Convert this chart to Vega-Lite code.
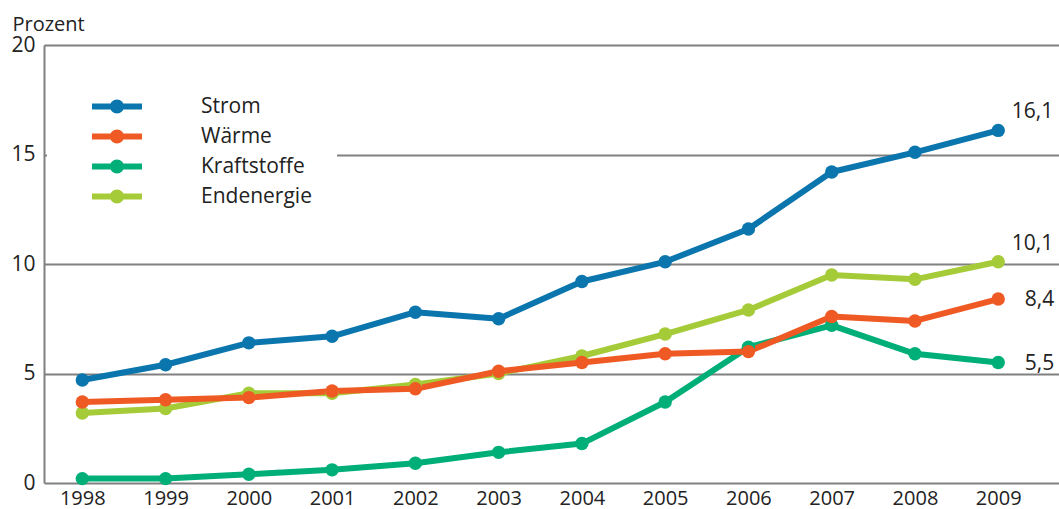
{
  "$schema": "https://vega.github.io/schema/vega-lite/v6.json",
  "width": 1015,
  "height": 438,
  "autosize": "none",
  "padding": {"left": 44, "top": 45, "right": 0, "bottom": 26},
  "background": "white",
  "config": {
    "view": {"stroke": null},
    "font": "Open Sans",
    "locale": {"number": {"decimal": ",", "thousands": ".", "grouping": [3], "currency": ["", " €"]}}
  },
  "data": {
    "values": [
      {"series": "Kraftstoffe", "year": 1998, "value": 0.2},
      {"series": "Kraftstoffe", "year": 1999, "value": 0.2},
      {"series": "Kraftstoffe", "year": 2000, "value": 0.4},
      {"series": "Kraftstoffe", "year": 2001, "value": 0.6},
      {"series": "Kraftstoffe", "year": 2002, "value": 0.9},
      {"series": "Kraftstoffe", "year": 2003, "value": 1.4},
      {"series": "Kraftstoffe", "year": 2004, "value": 1.8},
      {"series": "Kraftstoffe", "year": 2005, "value": 3.7},
      {"series": "Kraftstoffe", "year": 2006, "value": 6.2},
      {"series": "Kraftstoffe", "year": 2007, "value": 7.2},
      {"series": "Kraftstoffe", "year": 2008, "value": 5.9},
      {"series": "Kraftstoffe", "year": 2009, "value": 5.5},
      {"series": "Endenergie", "year": 1998, "value": 3.2},
      {"series": "Endenergie", "year": 1999, "value": 3.4},
      {"series": "Endenergie", "year": 2000, "value": 4.1},
      {"series": "Endenergie", "year": 2001, "value": 4.1},
      {"series": "Endenergie", "year": 2002, "value": 4.5},
      {"series": "Endenergie", "year": 2003, "value": 5.0},
      {"series": "Endenergie", "year": 2004, "value": 5.8},
      {"series": "Endenergie", "year": 2005, "value": 6.8},
      {"series": "Endenergie", "year": 2006, "value": 7.9},
      {"series": "Endenergie", "year": 2007, "value": 9.5},
      {"series": "Endenergie", "year": 2008, "value": 9.3},
      {"series": "Endenergie", "year": 2009, "value": 10.1},
      {"series": "Wärme", "year": 1998, "value": 3.7},
      {"series": "Wärme", "year": 1999, "value": 3.8},
      {"series": "Wärme", "year": 2000, "value": 3.9},
      {"series": "Wärme", "year": 2001, "value": 4.2},
      {"series": "Wärme", "year": 2002, "value": 4.3},
      {"series": "Wärme", "year": 2003, "value": 5.1},
      {"series": "Wärme", "year": 2004, "value": 5.5},
      {"series": "Wärme", "year": 2005, "value": 5.9},
      {"series": "Wärme", "year": 2006, "value": 6.0},
      {"series": "Wärme", "year": 2007, "value": 7.6},
      {"series": "Wärme", "year": 2008, "value": 7.4},
      {"series": "Wärme", "year": 2009, "value": 8.4},
      {"series": "Strom", "year": 1998, "value": 4.7},
      {"series": "Strom", "year": 1999, "value": 5.4},
      {"series": "Strom", "year": 2000, "value": 6.4},
      {"series": "Strom", "year": 2001, "value": 6.7},
      {"series": "Strom", "year": 2002, "value": 7.8},
      {"series": "Strom", "year": 2003, "value": 7.5},
      {"series": "Strom", "year": 2004, "value": 9.2},
      {"series": "Strom", "year": 2005, "value": 10.1},
      {"series": "Strom", "year": 2006, "value": 11.6},
      {"series": "Strom", "year": 2007, "value": 14.2},
      {"series": "Strom", "year": 2008, "value": 15.1},
      {"series": "Strom", "year": 2009, "value": 16.1}
    ]
  },
  "encoding": {
    "x": {
      "field": "year", "type": "quantitative",
      "scale": {"domain": [1997.54, 2009.73], "nice": false, "zero": false},
      "axis": {
        "values": [1998, 1999, 2000, 2001, 2002, 2003, 2004, 2005, 2006, 2007, 2008, 2009],
        "format": "d", "title": null, "grid": false, "domain": false, "ticks": false,
        "labelFontSize": 20, "labelColor": "#222222", "labelPadding": 5, "labelFont": "Open Sans"
      }
    },
    "y": {
      "field": "value", "type": "quantitative",
      "scale": {"domain": [0, 20], "nice": false, "zero": true},
      "axis": {
        "values": [0, 5, 10, 15, 20], "format": "d",
        "title": "Prozent", "titleAngle": 0, "titleAlign": "left", "titleBaseline": "alphabetic",
        "titleX": -32, "titleY": -15, "titleFontSize": 20, "titleFontWeight": "normal", "titleColor": "#222222", "titleFont": "Open Sans",
        "grid": true, "gridColor": "#808080", "gridWidth": 2,
        "domain": true, "domainColor": "#808080", "domainWidth": 2,
        "ticks": false, "labelFontSize": 21, "labelColor": "#222222", "labelPadding": 9, "labelFont": "Open Sans"
      }
    },
    "color": {
      "field": "series", "type": "nominal",
      "scale": {
        "domain": ["Strom", "Wärme", "Kraftstoffe", "Endenergie"],
        "range": ["#0a76ad", "#ef5a24", "#00ae78", "#a5cb38"]
      },
      "legend": {
        "title": null, "orient": "none", "legendX": 3, "legendY": 21.75,
        "padding": 25, "fillColor": "white",
        "symbolType": "M-1,-0.12H1V0.12H-1Z M0.28,0A0.28,0.28,0,1,1,-0.28,0A0.28,0.28,0,1,1,0.28,0Z",
        "symbolSize": 2500, "symbolOffset": 20, "labelOffset": 59,
        "clipHeight": 29.5, "rowPadding": 0,
        "labelFontSize": 21, "labelColor": "#222222", "labelFont": "Open Sans",
        "symbolStrokeWidth": 0,
        "encode": {"symbols": {"update": {"fill": {"scale": "color", "field": "value"}, "stroke": {"value": "transparent"}, "opacity": {"value": 1}}}}
      }
    }
  },
  "layer": [
    {"mark": {"type": "line", "strokeWidth": 6, "strokeJoin": "round", "strokeCap": "round"}},
    {"mark": {"type": "point", "filled": true, "size": 180, "opacity": 1}},
    {
      "transform": [{"filter": "datum.year == 2009 && (datum.series == 'Strom' || datum.series == 'Endenergie')"}],
      "mark": {"type": "text", "align": "right", "baseline": "middle", "dx": 55, "dy": -18, "fontSize": 21, "font": "Open Sans", "color": "#222222"},
      "encoding": {"text": {"field": "value", "type": "quantitative", "format": ".1f"}, "color": {"value": "#222222"}}
    },
    {
      "transform": [{"filter": "datum.year == 2009 && (datum.series == 'Wärme' || datum.series == 'Kraftstoffe')"}],
      "mark": {"type": "text", "align": "right", "baseline": "middle", "dx": 56, "dy": 1, "fontSize": 21, "font": "Open Sans", "color": "#222222"},
      "encoding": {"text": {"field": "value", "type": "quantitative", "format": ".1f"}, "color": {"value": "#222222"}}
    }
  ]
}
